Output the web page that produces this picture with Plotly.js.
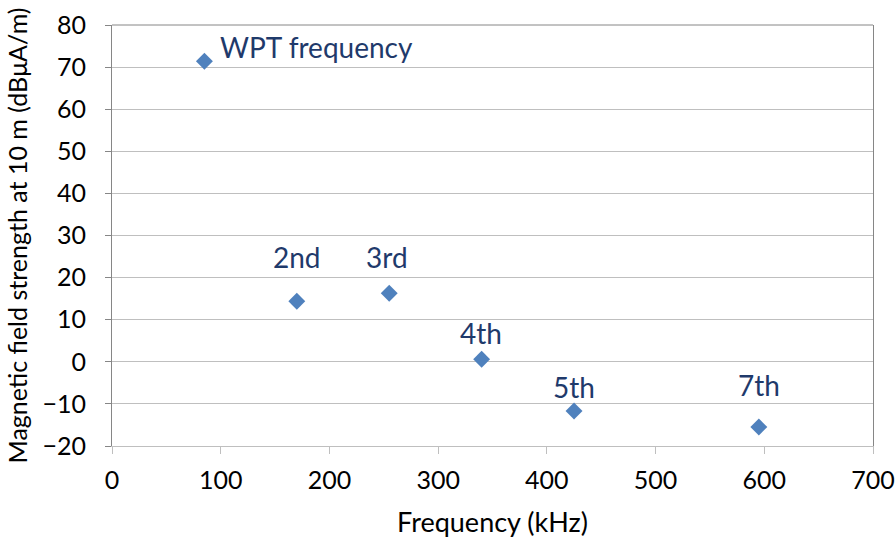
<!DOCTYPE html>
<html><head><meta charset="utf-8">
<script src="https://cdn.plot.ly/plotly-3.0.1.min.js"></script>
<style>body{margin:0;background:#fff}#chart{width:896px;height:540px}</style>
</head><body><div id="chart"></div>
<script>
const labels = ["WPT frequency", "2nd", "3rd", "4th", "5th", "7th"];
const freqKHz = [85, 170, 255, 340, 425, 595];
const fieldStrength = [71.4, 14.4, 16.3, 0.6, -11.7, -15.5];

const labelOffsets = [
  {xs: 14, ys: 14, xa: 'left'},
  {xs: 0, ys: 44, xa: 'center'},
  {xs: -2, ys: 36, xa: 'center'},
  {xs: -1, ys: 26, xa: 'center'},
  {xs: 0, ys: 24, xa: 'center'},
  {xs: 0, ys: 42, xa: 'center'}
];

const font = "Lato, 'Open Sans', sans-serif";
const trace = {
  x: freqKHz, y: fieldStrength, type: 'scatter', mode: 'markers',
  marker: {symbol: 'diamond', size: 13, color: '#4F81BD'},
  hoverinfo: 'skip'
};

const annotations = labels.map((t, i) => ({
  x: freqKHz[i], y: fieldStrength[i], text: t, showarrow: false,
  xanchor: labelOffsets[i].xa, yanchor: 'middle',
  xshift: labelOffsets[i].xs, yshift: labelOffsets[i].ys,
  font: {family: font, size: 28, color: '#1F3A6B'}
}));

const layout = {
  width: 896, height: 540,
  margin: {l: 112, r: 23, t: 25, b: 94},
  paper_bgcolor: '#fff', plot_bgcolor: '#fff',
  showlegend: false,
  font: {family: font, size: 25, color: '#000'},
  xaxis: {
    range: [0, 700], dtick: 100, tick0: 0,
    showgrid: false, zeroline: false,
    showline: true, linecolor: '#BFBFBF', linewidth: 1,
    ticks: 'outside', ticklen: 7, tickcolor: '#BFBFBF',
    ticklabelstandoff: 5,
    tickfont: {family: font, size: 25, color: '#000'},
    title: {text: 'Frequency (kHz)', font: {family: font, size: 27, color: '#000'}, standoff: 20}
  },
  yaxis: {
    range: [-20, 80], dtick: 10, tick0: 0,
    showgrid: true, gridcolor: '#BFBFBF', gridwidth: 1,
    zeroline: false,
    showline: true, linecolor: '#868686', linewidth: 1, mirror: true,
    ticks: 'outside', ticklen: 6, tickcolor: '#868686',
    ticklabelstandoff: 14,
    tickfont: {family: font, size: 25, color: '#000'},
    title: {text: 'Magnetic field strength at 10 m (dBμA/m)', font: {family: font, size: 25, color: '#000'}, standoff: 7}
  },
  shapes: [{type: 'line', xref: 'paper', yref: 'paper', x0: 0, x1: 1, y0: 1, y1: 1,
            line: {color: '#868686', width: 1}}],
  annotations: annotations
};

Plotly.newPlot('chart', [trace], layout, {displayModeBar: false, staticPlot: true});
</script></body></html>
